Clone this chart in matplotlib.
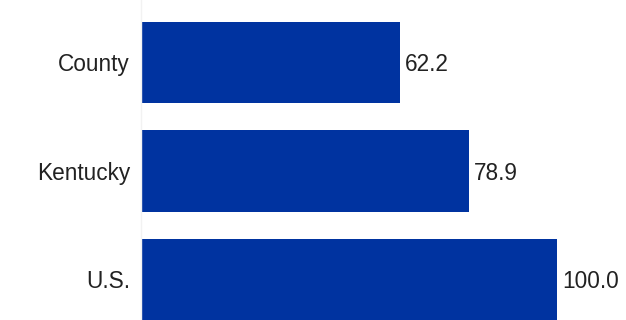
import matplotlib
matplotlib.use("Agg")
import matplotlib.pyplot as plt

categories = ["County", "Kentucky", "U.S."]
values = [62.2, 78.9, 100.0]
value_labels = ["62.2", "78.9", "100.0"]

plt.rcParams['font.family'] = ['Liberation Sans', 'DejaVu Sans']

fig = plt.figure(figsize=(6.26, 3.2), dpi=100)
ax = fig.add_axes([141/626, 0, 1 - 141/626, 1])
ypos = list(range(len(categories)))
bars = ax.barh(ypos, values, height=0.75, color="#0033a0")
ax.set_xlim(0, 485/416*100)
ax.set_ylim(2 + (320-279.5)/108.5, -62.5/108.5)
ax.set_yticks(ypos)
ax.set_yticklabels(categories, fontsize=16.3, color="#222222")
ax.tick_params(axis='y', length=0, pad=8)
ax.set_xticks([])
for s in ["top", "right", "bottom"]:
    ax.spines[s].set_visible(False)
ax.spines["left"].set_color("#f2f2f2")
ax.spines["left"].set_linewidth(1)
for b, lab in zip(bars, value_labels):
    ax.text(b.get_width() + 1.2, b.get_y() + b.get_height()/2 + 0.02, lab,
            va="center", ha="left", fontsize=16.3, color="#222222")
fig.savefig("out.png", dpi=100)
